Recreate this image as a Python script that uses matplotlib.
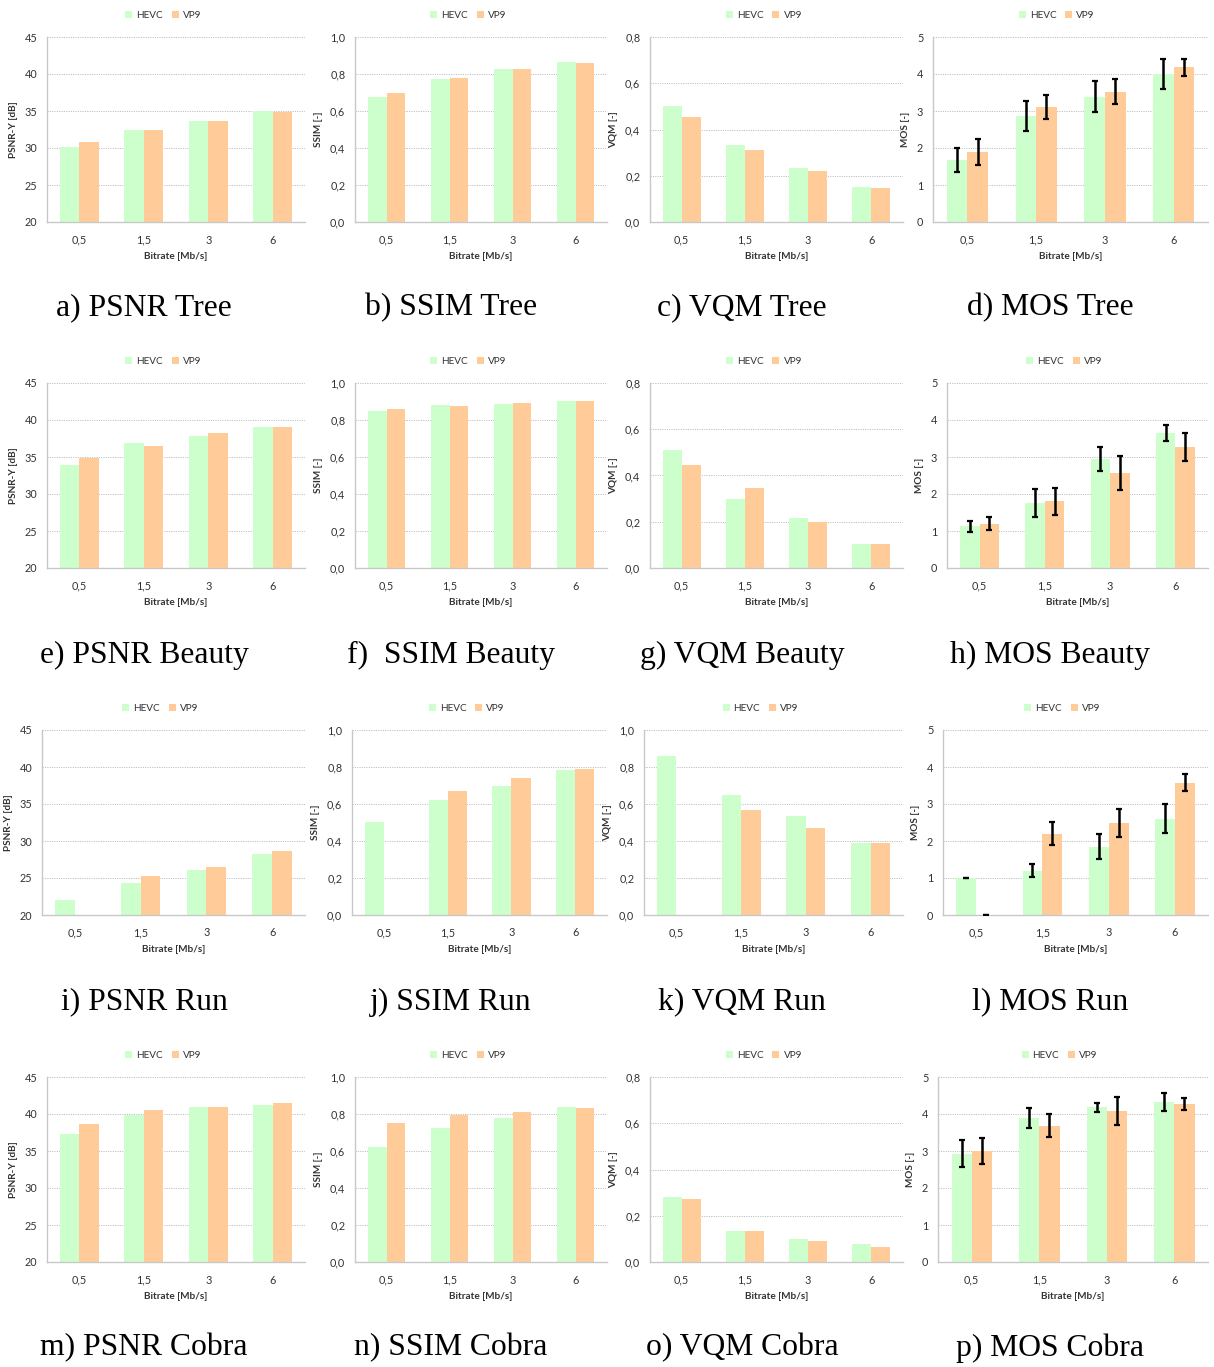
import matplotlib
matplotlib.use("Agg")
import matplotlib.pyplot as plt
from matplotlib.ticker import FuncFormatter, MultipleLocator
from matplotlib.patches import Patch
import numpy as np

# ---- data -------------------------------------------------------------
bitrates = ["0,5", "1,5", "3", "6"]
codecs = ["HEVC", "VP9"]
sequences = ["Tree", "Beauty", "Run", "Cobra"]

# PSNR-Y [dB]
psnr_hevc = {"Tree": [30.2, 32.4, 33.7, 35.0], "Beauty": [33.9, 36.9, 37.9, 39.0],
             "Run": [22.0, 24.3, 26.1, 28.2], "Cobra": [37.3, 39.9, 40.9, 41.2]}
psnr_vp9 = {"Tree": [30.8, 32.5, 33.7, 34.9], "Beauty": [34.9, 36.5, 38.2, 39.0],
            "Run": [0.0, 25.3, 26.5, 28.6], "Cobra": [38.6, 40.5, 41.0, 41.5]}

# SSIM [-]
ssim_hevc = {"Tree": [0.675, 0.775, 0.825, 0.865], "Beauty": [0.85, 0.88, 0.887, 0.90],
             "Run": [0.505, 0.62, 0.70, 0.785], "Cobra": [0.62, 0.725, 0.78, 0.84]}
ssim_vp9 = {"Tree": [0.70, 0.78, 0.825, 0.862], "Beauty": [0.86, 0.875, 0.892, 0.90],
            "Run": [0.0, 0.67, 0.74, 0.79], "Cobra": [0.75, 0.793, 0.81, 0.83]}

# VQM [-]
vqm_hevc = {"Tree": [0.50, 0.335, 0.235, 0.152], "Beauty": [0.51, 0.30, 0.215, 0.105],
            "Run": [0.86, 0.65, 0.537, 0.39], "Cobra": [0.28, 0.135, 0.10, 0.08]}
vqm_vp9 = {"Tree": [0.452, 0.31, 0.22, 0.147], "Beauty": [0.447, 0.345, 0.20, 0.103],
           "Run": [0.0, 0.57, 0.47, 0.39], "Cobra": [0.273, 0.135, 0.09, 0.065]}

# MOS [-] with confidence intervals
mos_hevc = {"Tree": [1.67, 2.86, 3.38, 4.0], "Beauty": [1.13, 1.76, 2.95, 3.65],
            "Run": [1.0, 1.2, 1.85, 2.6], "Cobra": [2.93, 3.88, 4.18, 4.33]}
mos_vp9 = {"Tree": [1.9, 3.1, 3.52, 4.18], "Beauty": [1.2, 1.8, 2.57, 3.27],
           "Run": [0.0, 2.2, 2.48, 3.57], "Cobra": [3.0, 3.68, 4.08, 4.28]}
mos_hevc_ci = {"Tree": [0.33, 0.41, 0.42, 0.41], "Beauty": [0.15, 0.38, 0.33, 0.22],
               "Run": [0.0, 0.18, 0.33, 0.39], "Cobra": [0.37, 0.27, 0.13, 0.25]}
mos_vp9_ci = {"Tree": [0.35, 0.32, 0.34, 0.23], "Beauty": [0.17, 0.37, 0.45, 0.39],
              "Run": [0.0, 0.31, 0.38, 0.23], "Cobra": [0.35, 0.31, 0.37, 0.16]}

captions = [
    ["a) PSNR Tree", "b) SSIM Tree", "c) VQM Tree", "d) MOS Tree"],
    ["e) PSNR Beauty", "f)  SSIM Beauty", "g) VQM Beauty", "h) MOS Beauty"],
    ["i) PSNR Run", "j) SSIM Run", "k) VQM Run", "l) MOS Run"],
    ["m) PSNR Cobra", "n) SSIM Cobra", "o) VQM Cobra", "p) MOS Cobra"],
]

# ---- style ------------------------------------------------------------
HEVC_COLOR = "#ccffcc"
VP9_COLOR = "#ffcc99"
GRID_COLOR = "#c0c0c0"
AXIS_COLOR = "#c8c8c8"
TEXT_COLOR = "#333333"
UI_FONT = ["Lato", "DejaVu Sans"]
CAPTION_FONT = ["Liberation Serif", "DejaVu Serif"]

W, H = 1214, 1367
fig = plt.figure(figsize=(W / 100, H / 100), dpi=100)

lefts = [[47, 355, 650, 933], [47, 355, 650, 947], [42, 352, 644, 943], [47, 355, 650, 938]]
rights = [305, 607, 903, 1208]
tops = [37, 383, 730, 1077]
plot_h = 185
caption_x = [144, 451, 742, 1050]
caption_y = [308, 655, 1002, 1348]


def comma_fmt(decimals):
    def f(v, _):
        s = f"{v:.{decimals}f}"
        return s.replace(".", ",")
    return FuncFormatter(f)


def make_axes(r, c):
    l, rt, t = lefts[r][c], rights[c], tops[r]
    return fig.add_axes([l / W, 1 - (t + plot_h) / H, (rt - l) / W, plot_h / H])


x = np.arange(len(bitrates)) + 0.5
bw = 0.3


def draw_panel(ax, hevc, vp9, ylim, step, decimals, ylabel, hevc_err=None, vp9_err=None):
    ax.bar(x - bw / 2, hevc, bw, color=HEVC_COLOR, zorder=2)
    ax.bar(x + bw / 2, vp9, bw, color=VP9_COLOR, zorder=2)
    if hevc_err is not None:
        ax.errorbar(x - bw / 2, hevc, yerr=hevc_err, fmt="none", ecolor="black",
                    elinewidth=1.8, capsize=2.5, capthick=1.6, zorder=3)
        ax.errorbar(x + bw / 2, vp9, yerr=vp9_err, fmt="none", ecolor="black",
                    elinewidth=1.8, capsize=2.5, capthick=1.6, zorder=3)
    ax.set_xlim(0, len(bitrates))
    ax.set_ylim(*ylim)
    ax.yaxis.set_major_locator(MultipleLocator(step))
    ax.yaxis.set_major_formatter(comma_fmt(decimals))
    ax.set_xticks(x)
    ax.set_xticklabels(bitrates)
    ax.grid(axis="y", color=GRID_COLOR, linestyle=(0, (1.2, 1.2)), linewidth=0.7, zorder=0)
    for s in ("top", "right"):
        ax.spines[s].set_visible(False)
    for s in ("left", "bottom"):
        ax.spines[s].set_color(AXIS_COLOR)
        ax.spines[s].set_linewidth(1.0)
    ax.tick_params(axis="both", length=0, labelsize=7.8, labelcolor=TEXT_COLOR)
    ax.tick_params(axis="x", pad=9)
    ax.tick_params(axis="y", pad=7)
    for lab in ax.get_xticklabels() + ax.get_yticklabels():
        lab.set_family(UI_FONT)
    ax.set_xlabel("Bitrate [Mb/s]", fontsize=7.2, fontweight="bold", family=UI_FONT,
                  color=TEXT_COLOR, labelpad=5)
    ax.set_ylabel(ylabel, fontsize=7.2, fontweight="bold", family=UI_FONT,
                  color=TEXT_COLOR, labelpad=5)
    handles = [Patch(facecolor=HEVC_COLOR, label=codecs[0]),
               Patch(facecolor=VP9_COLOR, label=codecs[1])]
    ax.legend(handles=handles, loc="lower center", bbox_to_anchor=(0.45, 1.07), ncol=2,
              frameon=False, prop={"family": UI_FONT, "size": 7.2}, handlelength=0.7,
              handleheight=0.7, handletextpad=0.4, columnspacing=0.9, borderaxespad=0,
              labelcolor=TEXT_COLOR)


for r, seq in enumerate(sequences):
    ax = make_axes(r, 0)
    draw_panel(ax, psnr_hevc[seq], psnr_vp9[seq], (20, 45), 5, 0, "PSNR-Y [dB]")
    ax = make_axes(r, 1)
    draw_panel(ax, ssim_hevc[seq], ssim_vp9[seq], (0, 1.0), 0.2, 1, "SSIM [-]")
    ax = make_axes(r, 2)
    vmax = 1.0 if seq == "Run" else 0.8
    draw_panel(ax, vqm_hevc[seq], vqm_vp9[seq], (0, vmax), 0.2, 1, "VQM [-]")
    ax = make_axes(r, 3)
    draw_panel(ax, mos_hevc[seq], mos_vp9[seq], (0, 5), 1, 0, "MOS [-]",
               mos_hevc_ci[seq], mos_vp9_ci[seq])
    for c in range(4):
        fig.text(caption_x[c] / W, 1 - caption_y[r] / H, captions[r][c],
                 ha="center", va="center", fontsize=22.8, family=CAPTION_FONT,
                 color="black")

fig.savefig("out.png", dpi=100, facecolor="white")
